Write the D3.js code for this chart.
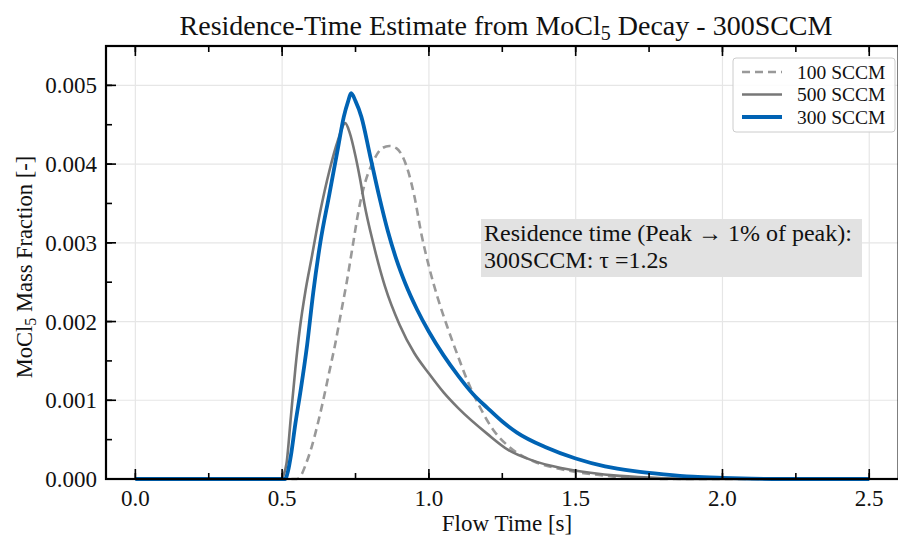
<!DOCTYPE html>
<html><head><meta charset="utf-8">
<script src="https://cdn.jsdelivr.net/npm/d3@7"></script>
<style>body{margin:0;background:#fff}svg{display:block}text{font-family:"Liberation Serif","Times New Roman",serif;fill:#111}</style>
</head><body><svg id="c" width="898" height="543"></svg>
<script>
const xTicks=[0,0.5,1.0,1.5,2.0,2.5];
const yTicks=[0,0.001,0.002,0.003,0.004,0.005];
const seriesNames=["100 SCCM","500 SCCM","300 SCCM"];
const x100=[0,0.55,0.565,0.58,0.60,0.62,0.64,0.66,0.68,0.70,0.72,0.74,0.76,0.78,0.81,0.84,0.865,0.89,0.91,0.93,0.95,0.975,1.0,1.03,1.062,1.1,1.13,1.17,1.22,1.27,1.31,1.36,1.42,1.5,1.58,1.66,1.75,1.85,2.5];
const y100=[0,0,0.00005,0.00018,0.0004,0.00068,0.001,0.00135,0.0017,0.0021,0.0025,0.00295,0.0034,0.00373,0.00403,0.0042,0.00423,0.0042,0.0041,0.0039,0.0036,0.0031,0.0027,0.0023,0.00194,0.00155,0.00126,0.00094,0.00062,0.00042,0.00031,0.00022,0.00015,0.00009,0.00005,0.00002,0.000005,0,0];
const x500=[0,0.495,0.505,0.515,0.53,0.545,0.56,0.58,0.60,0.63,0.66,0.69,0.715,0.73,0.75,0.766,0.78,0.81,0.85,0.90,0.95,1.0,1.05,1.1,1.2,1.27,1.35,1.45,1.55,1.65,1.8,1.9,2.5];
const y500=[0,0,0.00005,0.0002,0.0008,0.0014,0.0019,0.0024,0.0028,0.0034,0.0039,0.0043,0.00452,0.0044,0.0041,0.0038,0.0035,0.0030,0.00245,0.00196,0.00160,0.00134,0.00110,0.0009,0.00057,0.00037,0.00024,0.00014,0.00008,0.00004,0.00001,0,0];
const x300=[0,0.51,0.52,0.53,0.545,0.562,0.585,0.606,0.63,0.66,0.69,0.71,0.725,0.735,0.75,0.77,0.80,0.83,0.86,0.89,0.92,0.96,1.0,1.05,1.1,1.15,1.2,1.25,1.3,1.4,1.5,1.6,1.7,1.8,1.9,2.0,2.1,2.2,2.5];
const y300=[0,0,0.0001,0.0003,0.0007,0.0011,0.0017,0.00237,0.0030,0.0036,0.0042,0.0046,0.0048,0.0049,0.0048,0.0046,0.0041,0.0036,0.00315,0.00278,0.00248,0.00215,0.00187,0.00157,0.00131,0.00108,0.0009,0.00073,0.00059,0.0004,0.00026,0.00016,0.0001,0.00006,0.00003,0.000015,0.000005,0,0];

const svg=d3.select("#c");
const L=106,T=46,R=898.6,B=479;
const x=d3.scaleLinear().domain([-0.1,2.6]).range([L,R]);
const y=d3.scaleLinear().domain([0,0.0055]).range([B,T]);
const g=svg.append("g");
// grid
g.selectAll(".gx").data(xTicks).enter().append("line").attr("x1",d=>x(d)).attr("x2",d=>x(d)).attr("y1",T).attr("y2",B).attr("stroke","#e6e6e6").attr("stroke-width",1.2);
g.selectAll(".gy").data(yTicks).enter().append("line").attr("y1",d=>y(d)).attr("y2",d=>y(d)).attr("x1",L).attr("x2",R).attr("stroke","#e6e6e6").attr("stroke-width",1.2);
// curves
const line=d3.line().x(d=>x(d[0])).y(d=>y(d[1])).curve(d3.curveMonotoneX);
const zip=(a,b)=>a.map((v,i)=>[v,b[i]]);
g.append("path").attr("d",line(zip(x100,y100))).attr("fill","none").attr("stroke","#999").attr("stroke-width",2.6).attr("stroke-dasharray","8,5");
g.append("path").attr("d",line(zip(x500,y500))).attr("fill","none").attr("stroke","#777").attr("stroke-width",2.6);
g.append("path").attr("d",line(zip(x300,y300))).attr("fill","none").attr("stroke","#0063b4").attr("stroke-width",3.8);
// axes
const xMinor=d3.range(0,2.6,0.25);
const yMinor=d3.range(0,0.00551,0.0005);
function ticksX(vals,len){vals.forEach(v=>{g.append("line").attr("x1",x(v)).attr("x2",x(v)).attr("y1",B).attr("y2",B-len).attr("stroke","#000").attr("stroke-width",1.6);g.append("line").attr("x1",x(v)).attr("x2",x(v)).attr("y1",T).attr("y2",T+len).attr("stroke","#000").attr("stroke-width",1.6);});}
function ticksY(vals,len){vals.forEach(v=>{g.append("line").attr("y1",y(v)).attr("y2",y(v)).attr("x1",L).attr("x2",L+len).attr("stroke","#000").attr("stroke-width",1.6);});}
ticksX(xMinor,6);ticksX(xTicks,10);ticksY(yMinor,6);ticksY(yTicks,10);
g.append("rect").attr("x",L).attr("y",T).attr("width",R-L).attr("height",B-T).attr("fill","none").attr("stroke","#000").attr("stroke-width",2.2);
// tick labels
g.selectAll(".xl").data(xTicks).enter().append("text").attr("x",d=>x(d)).attr("y",B+27).attr("text-anchor","middle").attr("font-size",23).text(d=>d3.format(".1f")(d));
g.selectAll(".yl").data(yTicks).enter().append("text").attr("x",L-9).attr("y",d=>y(d)+8).attr("text-anchor","end").attr("font-size",23).text(d=>d3.format(".3f")(d));
// titles
const tt=svg.append("text").attr("x",506).attr("y",35).attr("text-anchor","middle").attr("font-size",28);
tt.append("tspan").text("Residence-Time Estimate from MoCl");
tt.append("tspan").attr("font-size",20).attr("dy",5).text("5");
tt.append("tspan").attr("dy",-5).text(" Decay - 300SCCM");
svg.append("text").attr("x",507).attr("y",531).attr("text-anchor","middle").attr("font-size",23).text("Flow Time [s]");
const yl=svg.append("text").attr("transform","translate(32,267) rotate(-90)").attr("text-anchor","middle").attr("font-size",22.5);
yl.append("tspan").text("MoCl");
yl.append("tspan").attr("font-size",16).attr("dy",4).text("5");
yl.append("tspan").attr("dy",-4).text(" Mass Fraction [-]");
// legend
const lg=svg.append("g");
lg.append("rect").attr("x",733).attr("y",58).attr("width",162).attr("height",74).attr("rx",3).attr("fill","#fff").attr("fill-opacity",0.85).attr("stroke","#ccc");
const lstyles=[{c:"#999",w:2.6,d:"8,5"},{c:"#777",w:2.6,d:null},{c:"#0063b4",w:3.8,d:null}];
seriesNames.forEach((n,i)=>{const yy=72+i*22.5;
 const ln=lg.append("line").attr("x1",742).attr("x2",782).attr("y1",yy).attr("y2",yy).attr("stroke",lstyles[i].c).attr("stroke-width",lstyles[i].w);
 if(lstyles[i].d) ln.attr("stroke-dasharray",lstyles[i].d);
 lg.append("text").attr("x",797).attr("y",yy+6.5).attr("font-size",19.5).text(n);});
// annotation
svg.append("rect").attr("x",481).attr("y",219).attr("width",381).attr("height",58).attr("fill","#e2e2e2");
svg.append("text").attr("x",484).attr("y",241).attr("font-size",24).text("Residence time (Peak \u2192 1% of peak):");
svg.append("text").attr("x",484).attr("y",268).attr("font-size",24).text("300SCCM: \u03c4 =1.2s");
</script></body></html>
